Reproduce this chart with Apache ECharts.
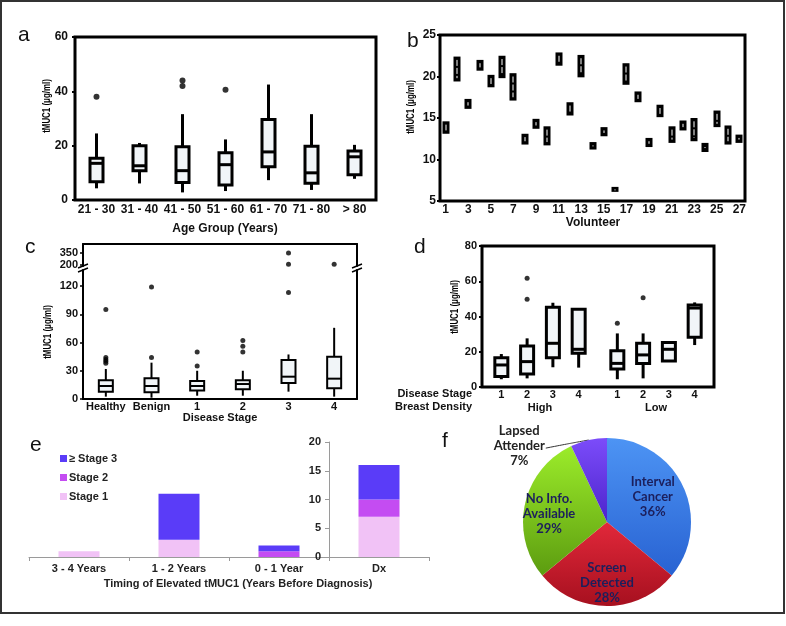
<!DOCTYPE html>
<html><head><meta charset="utf-8">
<script src="https://cdn.jsdelivr.net/npm/echarts@6/dist/echarts.min.js"></script>
<style>html,body{margin:0;padding:0;background:#fff}#c{width:786px;height:626px}</style>
</head><body><div id="c"></div>
<script>
// ---------- Panel a: tMUC1 by age group ----------
const aCats = ['21 - 30','31 - 40','41 - 50','51 - 60','61 - 70','71 - 80','> 80'];
const aMin = [4.3, 6.1, 2.8, 3.3, 7.3, 3.7, 7.8];
const aQ1  = [6.7, 10.8, 6.4, 5.5, 12.2, 6.2, 9.3];
const aMed = [13.5, 12.6, 10.8, 13.0, 17.7, 10.0, 15.9];
const aQ3  = [15.4, 20.0, 19.6, 17.4, 29.6, 19.8, 18.0];
const aMax = [24.5, 21.0, 31.6, 22.3, 42.5, 31.6, 20.3];
const aOutCat = [0, 2, 2, 3];
const aOutVal = [38, 44, 42, 40.6];

// ---------- Panel b: volunteers ----------
const bCats = ['1','2','3','4','5','6','7','8','9','10','11','12','13','14','15','16','17','18','19','20','21','22','23','24','25','26','27'];
const bLow  = [13.1,19.4,16.1,20.7,18.7,19.8,17.1,11.8,13.7,11.7,21.3,15.3,19.9,11.2,12.8,6.1,19.0,16.9,11.5,15.1,12.0,13.5,12.2,10.9,13.9,11.8,12.0];
const bHigh = [14.6,22.4,17.3,22.0,20.2,22.5,20.4,13.1,14.9,14.0,22.9,16.9,22.6,12.1,13.9,6.7,21.6,18.2,12.6,16.6,14.0,14.7,15.0,12.0,15.9,14.1,13.0];
const bInLo = [13.5,19.8,16.5,21.1,19.1,20.2,17.5,12.2,14.1,12.1,21.7,15.7,20.3,11.6,13.2,6.4,19.4,17.3,11.9,15.5,12.4,13.9,12.6,11.4,14.3,12.2,12.4];
const bInHi = [14.2,22.0,16.9,21.6,19.8,22.1,20.0,12.7,14.5,13.6,22.5,16.5,22.2,11.7,13.5,6.4,21.2,17.8,12.2,16.2,13.6,14.3,14.6,11.5,15.5,13.7,12.6];

// ---------- Panel c: disease stage (broken axis) ----------
const cCats = ['Healthy','Benign','1','2','3','4'];
const cMin = [2.5, 1.4, 3.5, 3.5, 7.8, 2.5];
const cQ1  = [7.8, 7.1, 8.9, 10.3, 17.0, 11.3];
const cMed = [13.8, 13.8, 13.8, 15.9, 23.7, 21.6];
const cQ3  = [20.0, 22.0, 19.0, 20.0, 41.3, 44.9];
const cMax = [31.9, 38.6, 30.0, 30.0, 47.3, 75.6];
const cOutCat = [0, 0, 0, 0, 0, 1, 1, 2, 2, 3, 3, 3, 4, 4, 4, 5];
const cOutVal = [95, 44, 42, 40, 38, 119, 44, 50, 35, 62, 56, 50, 113, 210, 350, 210];
const cLowTicks = [0, 30, 60, 90, 120];
const cHighTicks = [200, 350];

// ---------- Panel d: stage x breast density ----------
const dStage = ['1','2','3','4'];
const dDensity = ['High','Low'];
const dMin = [4.4, 4.9, 11.2, 11.0, 4.4, 4.9, 14.7, 23.8];
const dQ1  = [5.9, 7.4, 16.6, 19.1, 10.2, 13.4, 14.7, 28.2];
const dMed = [12.5, 14.4, 24.8, 21.4, 13.4, 18.2, 21.4, 44.8];
const dQ3  = [16.6, 23.3, 45.2, 44.1, 20.6, 24.8, 25.3, 46.5];
const dMax = [18.7, 27.6, 47.8, 44.1, 30.4, 30.4, 25.3, 48.0];
const dOutBox = [1, 1, 4, 5];
const dOutVal = [61.7, 49.8, 36.1, 50.7];

// ---------- Panel e: timing ----------
const eCats = ['3 - 4 Years','1 - 2 Years','0 - 1 Year','Dx'];
const eStage1 = [1, 3, 0, 7];
const eStage2 = [0, 0, 1, 3];
const eStage3 = [0, 8, 1, 6];

// ---------- Panel f: pie ----------
const fNames = ['Interval Cancer','Screen Detected','No Info. Available','Lapsed Attender'];
const fValues = [36, 28, 29, 7];

// ---------- build ----------
const FF = '"Liberation Sans", Arial, sans-serif';
const BOXFILL = '#f1f5f8';

function boxData(mn, q1, md, q3, mx, xs) {
  return mn.map((v, i) => [xs ? xs[i] : i, v, q1[i], md[i], q3[i], mx[i]]);
}
function boxRender(bw, lw) {
  return function (params, api) {
    const x = api.value(0);
    const pMin = api.coord([x, api.value(1)]);
    const pQ1 = api.coord([x, api.value(2)]);
    const pMed = api.coord([x, api.value(3)]);
    const pQ3 = api.coord([x, api.value(4)]);
    const pMax = api.coord([x, api.value(5)]);
    const cx = pMin[0];
    const ls = { stroke: '#000', lineWidth: lw };
    return { type: 'group', children: [
      { type: 'line', shape: { x1: cx, y1: pMax[1], x2: cx, y2: pQ3[1] }, style: ls },
      { type: 'line', shape: { x1: cx, y1: pQ1[1], x2: cx, y2: pMin[1] }, style: ls },
      { type: 'rect', shape: { x: cx - bw / 2, y: pQ3[1], width: bw, height: pQ1[1] - pQ3[1] }, style: { fill: BOXFILL, stroke: '#000', lineWidth: lw } },
      { type: 'line', shape: { x1: cx - bw / 2, y1: pMed[1], x2: cx + bw / 2, y2: pMed[1] }, style: ls }
    ]};
  };
}
function volRender(params, api) {
  const x = api.value(0);
  const lo = api.coord([x, api.value(1)]);
  const hi = api.coord([x, api.value(2)]);
  const ilo = api.coord([x, api.value(3)]);
  const ihi = api.coord([x, api.value(4)]);
  const cx = Math.round(lo[0]);
  return { type: 'group', children: [
    { type: 'rect', shape: { x: cx - 3.5, y: hi[1], width: 7, height: Math.max(lo[1] - hi[1], 4) }, style: { fill: '#000', stroke: null, lineWidth: 0 } },
    { type: 'line', shape: { x1: cx, y1: ihi[1], x2: cx, y2: Math.max(ilo[1], ihi[1] + 1) }, style: { stroke: '#ffffff', lineWidth: 1, lineDash: [6, 2] } }
  ]};
}

// d slots: 4 boxes per density group, one empty slot between boxes, gap between groups
const dSlotCount = 18;
const dSlot = [];
dDensity.forEach((g, gi) => dStage.forEach((s, si) => dSlot.push(gi * 9 + 1 + si * 2)));
const dAxis1 = new Array(dSlotCount).fill('');
const dAxis2 = new Array(dSlotCount).fill('');
dSlot.forEach((p, i) => { dAxis1[p] = dStage[i % 4]; });
dDensity.forEach((g, gi) => { dAxis2[gi * 9 + 4] = g; });

const cLowMax = 137;
const cLowOut = [], cHighOut = [];
cOutVal.forEach((v, i) => (v > cLowMax ? cHighOut : cLowOut).push([cOutCat[i], v]));

const lblBold = (size) => ({ fontFamily: FF, fontWeight: 'bold', fontSize: size, color: '#111' });
const noSplit = { show: false };
const yTitle = (x, y) => ({ type: 'text', x: x, y: y, rotation: Math.PI / 2, scaleX: 0.72,
  style: { text: 'tMUC1 (μg/ml)', font: 'bold 11px ' + FF, fill: '#000', align: 'center', verticalAlign: 'middle' } });

const chart = echarts.init(document.getElementById('c'));
const option = {
  backgroundColor: '#fff',
  animation: false,
  grid: [
    { left: 75, top: 37, width: 301, height: 163, show: true, borderColor: '#000', borderWidth: 3 },   // a
    { left: 440, top: 35, width: 305, height: 166, show: true, borderColor: '#000', borderWidth: 3 },  // b
    { left: 83, top: 270, width: 274, height: 129 },                                                  // c low
    { left: 83, top: 244, width: 274, height: 22 },                                                   // c high
    { left: 482, top: 246, width: 232, height: 141, show: true, borderColor: '#000', borderWidth: 3 }, // d
    { left: 29, top: 442, width: 400, height: 115 }                                                   // e
  ],
  xAxis: [
    { gridIndex: 0, type: 'category', position: 'bottom', data: aCats, axisLine: { show: false }, axisTick: { show: false },
      axisLabel: Object.assign({ interval: 0, margin: 4 }, lblBold(12)) },
    { gridIndex: 1, type: 'category', position: 'bottom', data: bCats, axisLine: { show: false }, axisTick: { show: false },
      axisLabel: Object.assign({ interval: 1, margin: 3 }, lblBold(12)) },
    { gridIndex: 2, type: 'category', position: 'bottom', data: cCats, axisLine: { lineStyle: { color: '#000', width: 2 } }, axisTick: { show: false },
      axisLabel: Object.assign({ interval: 0, margin: 2 }, lblBold(11)) },
    { gridIndex: 3, type: 'category', data: cCats, position: 'top', axisLine: { lineStyle: { color: '#000', width: 2 } }, axisTick: { show: false }, axisLabel: { show: false } },
    { gridIndex: 4, type: 'category', position: 'bottom', data: dAxis1, axisLine: { show: false }, axisTick: { show: false },
      axisLabel: Object.assign({ interval: 0, margin: 2 }, lblBold(11)) },
    { gridIndex: 4, type: 'category', position: 'bottom', data: dAxis2, offset: 13, axisLine: { show: false }, axisTick: { show: false },
      axisLabel: Object.assign({ interval: 0, margin: 2 }, lblBold(11)) },
    { gridIndex: 5, type: 'category', position: 'bottom', data: eCats, axisLine: { lineStyle: { color: '#9a9a9a', width: 1 } },
      axisTick: { show: true, length: 4, lineStyle: { color: '#9a9a9a' } },
      axisLabel: Object.assign({ interval: 0, margin: 6 }, lblBold(11), { color: '#222' }) }
  ],
  yAxis: [
    { gridIndex: 0, type: 'value', position: 'left', min: 0, max: 60, interval: 20, splitLine: noSplit, axisLine: { show: false },
      axisTick: { show: true, length: 3, lineStyle: { color: '#000', width: 2 } }, axisLabel: Object.assign({ margin: 7 }, lblBold(12)) },
    { gridIndex: 1, type: 'value', position: 'left', min: 5, max: 25, interval: 5, splitLine: noSplit, axisLine: { show: false },
      axisTick: { show: true, length: 3, lineStyle: { color: '#000', width: 2 } }, axisLabel: Object.assign({ margin: 4 }, lblBold(12)) },
    { gridIndex: 2, type: 'value', position: 'left', min: 0, max: cLowMax, splitLine: noSplit, axisLine: { show: true, lineStyle: { color: '#000', width: 2 } },
      axisTick: { show: true, length: 3, customValues: cLowTicks, lineStyle: { color: '#000', width: 1.5 } },
      axisLabel: Object.assign({ margin: 5, customValues: cLowTicks }, lblBold(11)) },
    { gridIndex: 2, type: 'value', position: 'right', min: 0, max: cLowMax, splitLine: noSplit, axisLine: { show: true, lineStyle: { color: '#000', width: 2 } },
      axisTick: { show: false }, axisLabel: { show: false } },
    { gridIndex: 3, type: 'value', position: 'left', min: 187.5, max: 462.5, splitLine: noSplit, axisLine: { show: true, lineStyle: { color: '#000', width: 2 } },
      axisTick: { show: true, length: 3, customValues: cHighTicks, lineStyle: { color: '#000', width: 1.5 } },
      axisLabel: Object.assign({ margin: 5, customValues: cHighTicks }, lblBold(11)) },
    { gridIndex: 3, type: 'value', position: 'right', min: 187.5, max: 462.5, splitLine: noSplit, axisLine: { show: true, lineStyle: { color: '#000', width: 2 } },
      axisTick: { show: false }, axisLabel: { show: false } },
    { gridIndex: 4, type: 'value', position: 'left', min: 0, max: 80, interval: 20, splitLine: noSplit, axisLine: { show: false },
      axisTick: { show: true, length: 3, lineStyle: { color: '#000', width: 2 } }, axisLabel: Object.assign({ margin: 5 }, lblBold(11)) },
    { gridIndex: 5, type: 'value', min: 0, max: 20, interval: 5, position: 'left', offset: -300, splitLine: noSplit,
      axisLine: { show: true, lineStyle: { color: '#9a9a9a', width: 1 } },
      axisTick: { show: true, length: 4, lineStyle: { color: '#9a9a9a' } },
      axisLabel: Object.assign({ margin: 8 }, lblBold(11), { color: '#222' }) }
  ],
  legend: {
    data: ['≥ Stage 3', 'Stage 2', 'Stage 1'], orient: 'vertical', left: 55, top: 448,
    icon: 'rect', itemWidth: 7, itemHeight: 7, itemGap: 8, selectedMode: false,
    textStyle: { fontFamily: FF, fontWeight: 'bold', fontSize: 11, color: '#222', padding: [0, 0, 0, -3] }
  },
  series: [
    { type: 'custom', xAxisIndex: 0, yAxisIndex: 0, renderItem: boxRender(13, 3), encode: { x: 0, y: [1, 2, 3, 4, 5] },
      data: boxData(aMin, aQ1, aMed, aQ3, aMax), z: 3 },
    { type: 'scatter', xAxisIndex: 0, yAxisIndex: 0, symbolSize: 6, itemStyle: { color: '#000' },
      data: aOutCat.map((c, i) => [c, aOutVal[i]]), z: 4 },
    { type: 'custom', xAxisIndex: 1, yAxisIndex: 1, renderItem: volRender, encode: { x: 0, y: [1, 2] },
      data: bLow.map((v, i) => [i, v, bHigh[i], bInLo[i], bInHi[i]]), z: 3 },
    { type: 'custom', xAxisIndex: 2, yAxisIndex: 2, renderItem: boxRender(14, 2), encode: { x: 0, y: [1, 2, 3, 4, 5] },
      data: boxData(cMin, cQ1, cMed, cQ3, cMax), z: 3 },
    { type: 'scatter', xAxisIndex: 2, yAxisIndex: 2, symbolSize: 5, itemStyle: { color: '#000' }, data: cLowOut, z: 4 },
    { type: 'scatter', xAxisIndex: 3, yAxisIndex: 4, symbolSize: 5, itemStyle: { color: '#000' }, data: cHighOut, z: 4 },
    { type: 'custom', xAxisIndex: 4, yAxisIndex: 6, renderItem: boxRender(13, 3), encode: { x: 0, y: [1, 2, 3, 4, 5] },
      data: boxData(dMin, dQ1, dMed, dQ3, dMax, dSlot), z: 3 },
    { type: 'scatter', xAxisIndex: 4, yAxisIndex: 6, symbolSize: 5, itemStyle: { color: '#000' },
      data: dOutBox.map((b, i) => [dSlot[b], dOutVal[i]]), z: 4 },
    { name: 'Stage 1', type: 'bar', stack: 'e', xAxisIndex: 6, yAxisIndex: 7, barWidth: 41, data: eStage1, itemStyle: { color: '#f1c2f6' } },
    { name: 'Stage 2', type: 'bar', stack: 'e', xAxisIndex: 6, yAxisIndex: 7, barWidth: 41, data: eStage2, itemStyle: { color: '#c44cf2' } },
    { name: '≥ Stage 3', type: 'bar', stack: 'e', xAxisIndex: 6, yAxisIndex: 7, barWidth: 41, data: eStage3, itemStyle: { color: '#5a3cf8' } },
    { type: 'pie', center: [607, 522], radius: 84, startAngle: 90, clockwise: true,
      data: fNames.map((n, i) => (i === 3
        ? { name: n, value: fValues[i], label: { position: 'outside', color: '#222' },
            labelLine: { show: true, length: 4, length2: 38, smooth: 0.3, lineStyle: { color: '#333', width: 1 } } }
        : { name: n, value: fValues[i] })),
      color: [
        { type: 'linear', x: 0, y: 0, x2: 0, y2: 1, colorStops: [{ offset: 0, color: '#4d94f4' }, { offset: 1, color: '#2862d2' }] },
        { type: 'linear', x: 0, y: 0, x2: 0, y2: 1, colorStops: [{ offset: 0, color: '#e2283a' }, { offset: 1, color: '#a6101f' }] },
        { type: 'linear', x: 0, y: 0, x2: 0, y2: 1, colorStops: [{ offset: 0, color: '#9cec2a' }, { offset: 1, color: '#5c9c10' }] },
        { type: 'linear', x: 0, y: 0, x2: 0, y2: 1, colorStops: [{ offset: 0, color: '#7c4cfa' }, { offset: 1, color: '#4c24cc' }] }
      ],
      label: { position: 'inside', formatter: (p) => p.name.replace(/ (?=\S+$)/, '\n') + '\n' + p.value + '%',
        fontFamily: 'Lato, "Open Sans", sans-serif', fontWeight: 'bold', fontSize: 13, lineHeight: 15, color: '#1c1f5c' },
      labelLine: { show: false },
      labelLayout: function (p) {
        const adj = [[5, -6], [0, 16], [-14, 2]];
        if (p.dataIndex === 3) {
          const r = p.labelRect;
          const midY = r.y + r.height / 2 + 10;
          const out = { x: r.x + r.width / 2, y: midY, align: 'center', verticalAlign: 'middle' };
          if (p.labelLinePoints && p.labelLinePoints.length) {
            const s = p.labelLinePoints[0];
            out.labelLinePoints = [s, [s[0] - 22, s[1] + 4], [r.x + r.width + 1, midY + 2]];
          }
          return out;
        }
        return { dx: adj[p.dataIndex][0], dy: adj[p.dataIndex][1] };
      },
      emphasis: { disabled: true }
    }
  ],
  graphic: [
    { type: 'rect', shape: { x: 1, y: 1, width: 783, height: 612 }, style: { fill: null, stroke: '#333', lineWidth: 2 }, z: 100 },
    // panel letters
    { type: 'text', x: 18, y: 46, style: { text: 'a', font: '21px ' + FF, fill: '#111', verticalAlign: 'bottom' } },
    { type: 'text', x: 407, y: 52, style: { text: 'b', font: '21px ' + FF, fill: '#111', verticalAlign: 'bottom' } },
    { type: 'text', x: 25, y: 258, style: { text: 'c', font: '21px ' + FF, fill: '#111', verticalAlign: 'bottom' } },
    { type: 'text', x: 414, y: 258, style: { text: 'd', font: '21px ' + FF, fill: '#111', verticalAlign: 'bottom' } },
    { type: 'text', x: 30, y: 456, style: { text: 'e', font: '21px ' + FF, fill: '#111', verticalAlign: 'bottom' } },
    { type: 'text', x: 442, y: 452, style: { text: 'f', font: '21px ' + FF, fill: '#111', verticalAlign: 'bottom' } },
    // y-axis titles
    yTitle(47, 106), yTitle(411, 107), yTitle(48, 332), yTitle(455, 307),
    // x-axis titles
    { type: 'text', x: 225, y: 229, style: { text: 'Age Group (Years)', font: 'bold 12px ' + FF, fill: '#111', align: 'center', verticalAlign: 'middle' } },
    { type: 'text', x: 593, y: 223, style: { text: 'Volunteer', font: 'bold 12px ' + FF, fill: '#111', align: 'center', verticalAlign: 'middle' } },
    { type: 'text', x: 220, y: 418, style: { text: 'Disease Stage', font: 'bold 11px ' + FF, fill: '#111', align: 'center', verticalAlign: 'middle' } },
    { type: 'text', x: 472, y: 394, style: { text: 'Disease Stage', font: 'bold 11px ' + FF, fill: '#111', align: 'right', verticalAlign: 'middle' } },
    { type: 'text', x: 472, y: 407, style: { text: 'Breast Density', font: 'bold 11px ' + FF, fill: '#111', align: 'right', verticalAlign: 'middle' } },
    { type: 'text', x: 238, y: 584, style: { text: 'Timing of Elevated tMUC1 (Years Before Diagnosis)', font: 'bold 11px ' + FF, fill: '#222', align: 'center', verticalAlign: 'middle' } },
    // axis break marks (panel c)
    { type: 'line', shape: { x1: 78, y1: 268, x2: 88, y2: 264 }, style: { stroke: '#000', lineWidth: 1.5 } },
    { type: 'line', shape: { x1: 78, y1: 272, x2: 88, y2: 268 }, style: { stroke: '#000', lineWidth: 1.5 } },
    { type: 'line', shape: { x1: 352, y1: 268, x2: 362, y2: 264 }, style: { stroke: '#000', lineWidth: 1.5 } },
    { type: 'line', shape: { x1: 352, y1: 272, x2: 362, y2: 268 }, style: { stroke: '#000', lineWidth: 1.5 } }
  ]
};
chart.setOption(option);
</script></body></html>
